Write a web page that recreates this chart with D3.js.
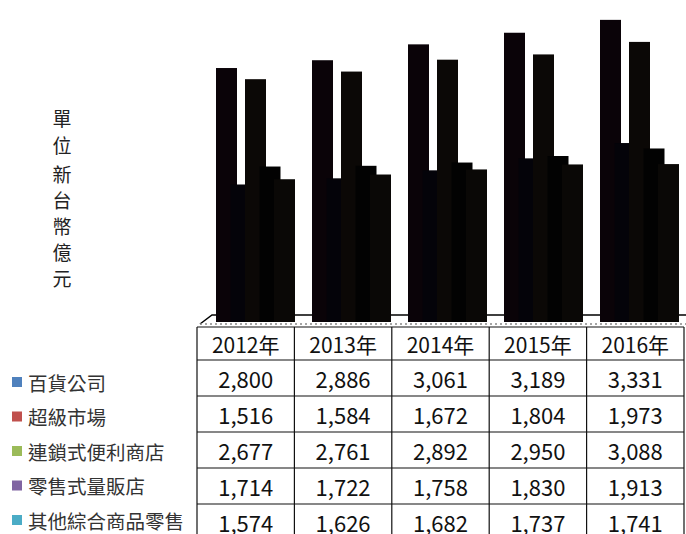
<!DOCTYPE html>
<meta charset="utf-8">
<style>
  body { margin: 0; background: #fff; }
  svg text { font-family: "Noto Sans CJK TC", "Noto Sans", sans-serif; fill: #111; }
</style>
<script src="https://d3js.org/d3.v7.min.js"></script>
<svg id="chart" width="686" height="534"></svg>
<script>
  var years = ["2012年", "2013年", "2014年", "2015年", "2016年"];
  var series = ["百貨公司", "超級市場", "連鎖式便利商店", "零售式量販店", "其他綜合商品零售"];
  var dept = [2800, 2886, 3061, 3189, 3331];
  var supermarket = [1516, 1584, 1672, 1804, 1973];
  var convenience = [2677, 2761, 2892, 2950, 3088];
  var hypermarket = [1714, 1722, 1758, 1830, 1913];
  var others = [1574, 1626, 1682, 1737, 1741];
  var legendColors = ["#4f81bd", "#c0504d", "#9bbb59", "#8064a2", "#4bacc6"];
  // the bars come out almost black in the original
  var barColors = ["#0a0308", "#040309", "#0b0806", "#020202", "#0a0806"];
  var yTitle = "單位新台幣億元";

  var values = [dept, supermarket, convenience, hypermarket, others];

  var svg = d3.select("#chart");

  var y = d3.scaleLinear().domain([0, 3550]).range([322, 0]);
  var xBars = d3.scaleBand().domain(years).range([197, 677]);
  var xSub = d3.scaleLinear().domain([0, 4]).range([19, 77]);
  var xTable = d3.scaleBand().domain(years).range([197, 684]);

  // floor
  svg.append("path")
    .attr("d", "M200,324 L212,315 L686,315")
    .attr("fill", "none").attr("stroke", "#000").attr("stroke-width", 1.5);
  svg.append("line")
    .attr("x1", 200).attr("x2", 686).attr("y1", 324).attr("y2", 324)
    .attr("stroke", "#888").attr("stroke-width", 1.5).attr("stroke-dasharray", "2,3");

  // bars
  var groups = svg.selectAll("g.year").data(years).enter().append("g")
    .attr("class", "year")
    .attr("transform", function(d) { return "translate(" + xBars(d) + ",0)"; });

  groups.selectAll("rect")
    .data(function(d, j) { return values.map(function(v, i) { return { i: i, v: v[j] }; }); })
    .enter().append("rect")
    .attr("x", function(d) { return xSub(d.i); })
    .attr("y", function(d) { return y(d.v); })
    .attr("width", 21)
    .attr("height", function(d) { return y(0) - y(d.v); })
    .attr("fill", function(d) { return barColors[d.i]; });

  // y title, one character per line
  var chars = yTitle.split("");
  var charY = [117, 144, 173, 199, 225, 251, 277];
  svg.append("g").selectAll("text").data(chars).enter().append("text")
    .attr("x", 62)
    .attr("y", function(d, i) { return charY[i]; })
    .attr("text-anchor", "middle")
    .attr("dominant-baseline", "central")
    .style("font-size", "19px")
    .style("fill", "#222")
    .text(function(d) { return d; });

  // data table
  var rowTop = [327, 360, 396, 432, 468, 504, 540];
  var table = svg.append("g");
  rowTop.forEach(function(r) {
    table.append("line")
      .attr("x1", 197).attr("x2", 684).attr("y1", r).attr("y2", r)
      .attr("stroke", "#111").attr("stroke-width", 1.2);
  });
  xTable.domain().concat(["end"]).forEach(function(d) {
    var xx = d === "end" ? 684 : xTable(d);
    table.append("line")
      .attr("x1", xx).attr("x2", xx).attr("y1", 327).attr("y2", 534)
      .attr("stroke", "#111").attr("stroke-width", 1.2);
  });

  table.selectAll("text.head").data(years).enter().append("text")
    .attr("class", "head")
    .attr("x", function(d) { return xTable(d) + xTable.bandwidth() / 2; })
    .attr("y", 344)
    .attr("text-anchor", "middle")
    .attr("dominant-baseline", "central")
    .style("font-size", "21px")
    .text(function(d) { return d; });

  var fmt = d3.format(",");
  values.forEach(function(v, i) {
    table.selectAll("text.r" + i).data(v).enter().append("text")
      .attr("class", "r" + i)
      .attr("x", function(d, j) { return xTable(years[j]) + xTable.bandwidth() / 2; })
      .attr("y", (rowTop[i + 1] + rowTop[i + 2]) / 2)
      .attr("text-anchor", "middle")
      .attr("dominant-baseline", "central")
      .style("font-size", "22px")
      .text(function(d) { return fmt(d); });
  });

  // legend
  var legend = svg.append("g").selectAll("g").data(series).enter().append("g")
    .attr("transform", function(d, i) { return "translate(12," + (382 + i * 34.5) + ")"; });
  legend.append("rect")
    .attr("x", 0).attr("y", -5).attr("width", 10).attr("height", 10)
    .attr("fill", function(d, i) { return legendColors[i]; });
  legend.append("text")
    .attr("x", 16).attr("y", 0)
    .attr("dominant-baseline", "central")
    .style("font-size", "19.5px")
    .style("fill", "#333")
    .text(function(d) { return d; });
</script>
